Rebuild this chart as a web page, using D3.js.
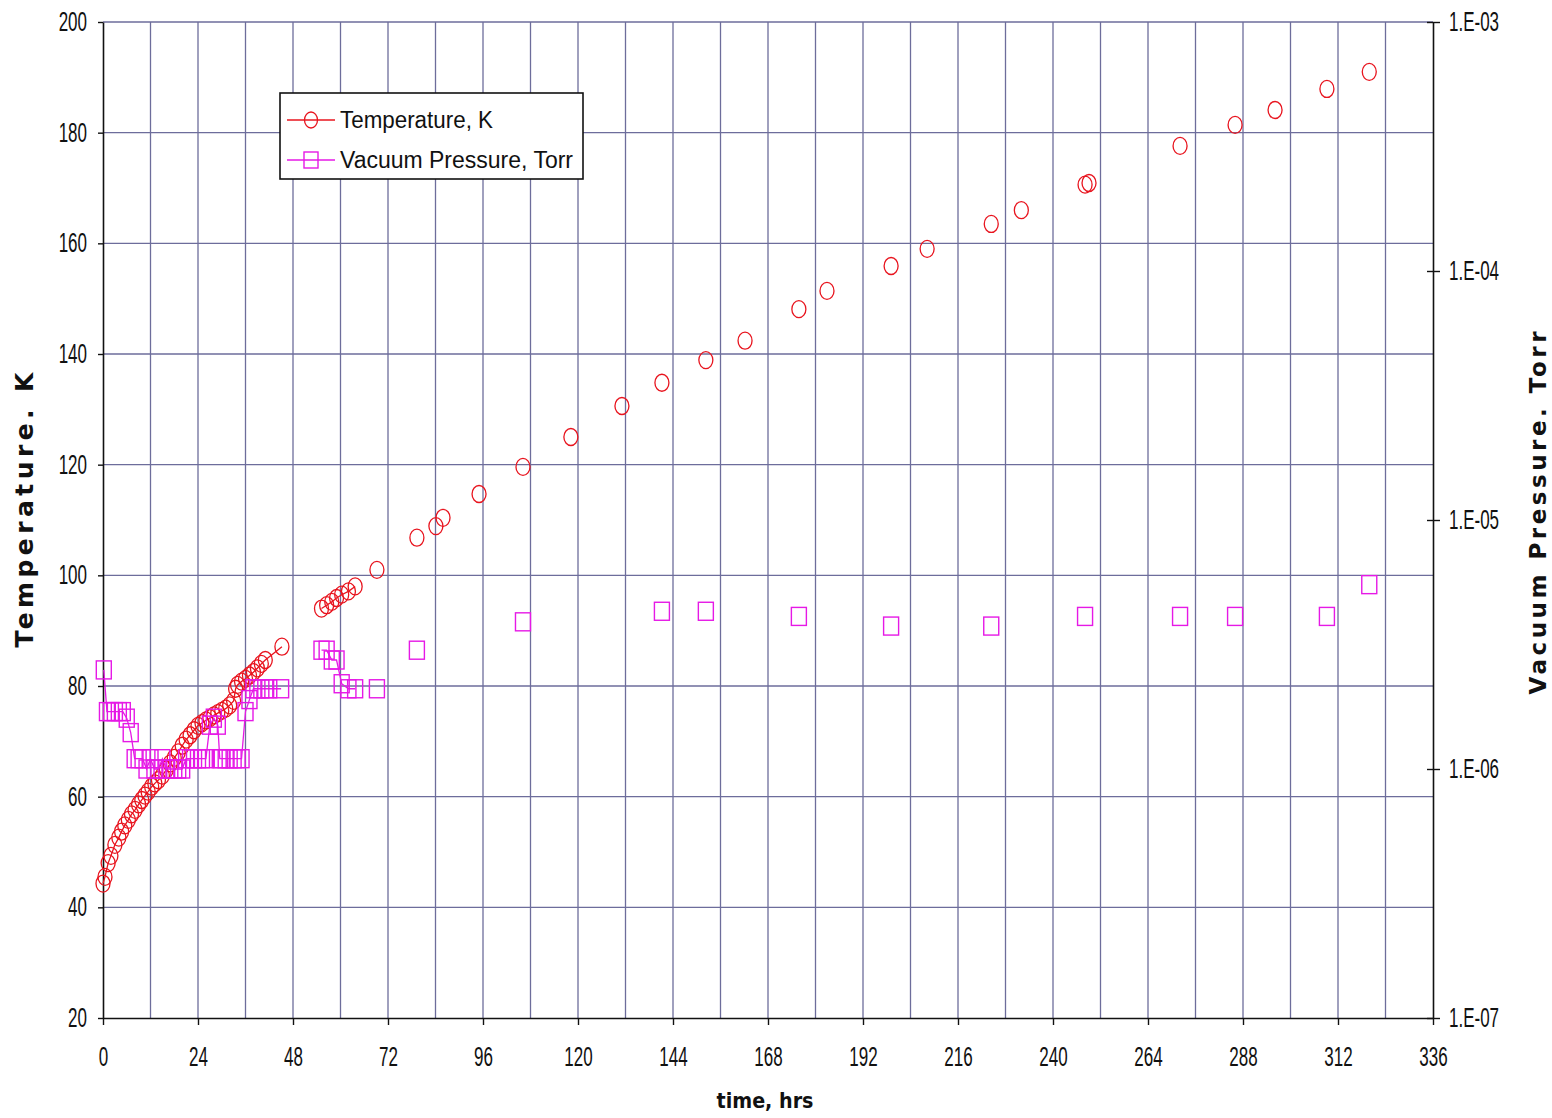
<!DOCTYPE html>
<html><head><meta charset="utf-8">
<script src="https://cdn.jsdelivr.net/npm/d3@7"></script>
<style>body{margin:0;background:#fff}svg{display:block}</style>
</head><body><svg id="c" width="1552" height="1118"></svg>
<script>
// ---------------- data ----------------
const timeTicks = [0,24,48,72,96,120,144,168,192,216,240,264,288,312,336];
const tempTicks = [20,40,60,80,100,120,140,160,180,200];
const pressureTicks = [1e-7,1e-6,1e-5,1e-4,1e-3];
const pressureTickLabels = ["1.E-07","1.E-06","1.E-05","1.E-04","1.E-03"];

// early continuous run (0-45 h)
const earlyTempTime = [0,0.5,1.3,2,3,4,4.7,5.5,6.4,7.2,8.1,9,9.8,10.6,11.4,12.3,13.1,14,15,16,17,18,19,20,21,22,23,24,25,26,27,28,29,30,31,32,33,33.5,34,35,36,37,38,39,40,41,45.2];
const earlyTempK = [44.3,45.5,48.0,49.3,51.3,52.6,53.7,54.8,55.8,56.8,57.6,58.6,59.4,60.2,60.9,61.8,62.4,63.0,63.8,64.9,66.0,67.0,68.0,69.2,70.3,71.1,72.0,72.8,73.3,73.8,74.2,74.7,75.1,75.5,75.9,76.5,77.3,79.5,80.2,80.8,81.3,81.9,82.5,83.2,84.0,84.7,87.1];
const earlyPresTime = [0.2,1,2,3,4,5,6,7,8,9,10,11,12,13,14,15,16,17,18,19,20,21,22,23,24,25,26,27,28,29,29.5,30,31,32,33,34,35,36,37,38,39,40,41,42,45];
const earlyPresTorr = [2.5e-6,1.7e-6,1.7e-6,1.7e-6,1.7e-6,1.7e-6,1.6e-6,1.4e-6,1.1e-6,1.1e-6,1.1e-6,1.0e-6,1.1e-6,1.0e-6,1.0e-6,1.1e-6,1.0e-6,1.0e-6,1.0e-6,1.0e-6,1.0e-6,1.1e-6,1.1e-6,1.1e-6,1.1e-6,1.1e-6,1.1e-6,1.5e-6,1.6e-6,1.5e-6,1.1e-6,1.1e-6,1.1e-6,1.1e-6,1.1e-6,1.1e-6,1.1e-6,1.7e-6,1.9e-6,2.1e-6,2.1e-6,2.1e-6,2.1e-6,2.1e-6,2.1e-6];

// second continuous run (55-64 h)
const midTime = [55.2,56.5,57.8,59.0,60.3,62.0,63.7];
const midTempK = [94.0,94.6,95.2,95.9,96.5,97.1,98.0];
const midPresTorr = [3.0e-6,3.0e-6,2.74e-6,2.74e-6,2.2e-6,2.1e-6,2.1e-6];

// later isolated readings
const lateTime = [69.2,79.3,84.1,85.9,95.0,106.1,118.2,131.1,141.2,152.3,162.2,175.8,182.9,199.1,208.2,224.4,232.0,248.1,249.1,272.1,286.0,296.1,309.2,319.9];
const lateTempK = [101.0,106.8,108.9,110.4,114.7,119.6,125.0,130.6,134.8,138.9,142.4,148.1,151.4,155.9,159.0,163.5,166.0,170.6,170.9,177.6,181.4,184.1,187.9,191.0];
const latePresTorr = [2.1e-6,3.0e-6,null,null,null,3.9e-6,null,null,4.3e-6,4.3e-6,null,4.1e-6,null,3.75e-6,null,3.75e-6,null,4.1e-6,null,4.1e-6,4.1e-6,null,4.1e-6,5.5e-6];

// ---------------- chart ----------------
const svg = d3.select("#c");
const L = 103, R = 1433, T = 22, B = 1018;
const x = d3.scaleLinear().domain([0,336]).range([L,R]);
const yT = d3.scaleLinear().domain([20,200]).range([B,T]);
const yP = d3.scaleLog().domain([1e-7,1e-3]).range([B,T]);

const gridColor = "#6d6d9b";
const red = "#e8141e", mag = "#e619e6";
const tickFont = "'Liberation Sans', Arial, sans-serif";
const SX = 0.63;

function condense(texts, sx) {
  texts.each(function() {
    const t = d3.select(this);
    const xv = +t.attr("x") || 0;
    t.attr("x", xv / sx).attr("transform", `scale(${sx},1)`);
  });
}

// grid
const grid = svg.append("g");
grid.selectAll("line.v").data(d3.range(12, 336, 12)).join("line")
  .attr("x1", d => x(d)).attr("x2", d => x(d)).attr("y1", T).attr("y2", B)
  .attr("stroke", gridColor).attr("stroke-width", 1.3);
grid.selectAll("line.h").data(tempTicks.filter(d => d > 20)).join("line")
  .attr("x1", L).attr("x2", R).attr("y1", d => yT(d)).attr("y2", d => yT(d))
  .attr("stroke", gridColor).attr("stroke-width", 1.3);

// axes
const ax = svg.append("g").attr("transform", `translate(0,${B})`)
  .call(d3.axisBottom(x).tickValues(timeTicks).tickSize(7).tickPadding(22).tickSizeOuter(0));
const ay = svg.append("g").attr("transform", `translate(${L},0)`)
  .call(d3.axisLeft(yT).tickValues(tempTicks).tickSize(5).tickPadding(11).tickSizeOuter(0));
const ar = svg.append("g").attr("transform", `translate(${R},0)`)
  .call(d3.axisRight(yP).tickValues(pressureTicks).tickFormat((d, i) => pressureTickLabels[i]).tickSize(7).tickPadding(9).tickSizeOuter(0));
ar.selectAll(".tick line").attr("x1", -6);
[ax, ay, ar].forEach(g => {
  g.select(".domain").attr("stroke", "#111").attr("stroke-width", 1.6);
  g.selectAll(".tick line").attr("stroke", "#111").attr("stroke-width", 1.4);
  g.selectAll("text").attr("font-family", tickFont).attr("font-size", 27).attr("fill", "#111");
  condense(g.selectAll("text"), SX);
});

// series
const line = d3.line().x(d => x(d[0])).y(d => d[1]);
function drawRun(times, vals, yScale, color) {
  const pts = times.map((t, i) => [t, vals[i] == null ? null : yScale(vals[i])]).filter(p => p[1] != null);
  svg.append("path").attr("d", line(pts)).attr("fill", "none").attr("stroke", color).attr("stroke-width", 1.3);
}
function drawCircles(times, vals) {
  svg.append("g").selectAll("ellipse").data(times.map((t, i) => [t, vals[i]]).filter(d => d[1] != null)).join("ellipse")
    .attr("cx", d => x(d[0])).attr("cy", d => yT(d[1])).attr("rx", 7).attr("ry", 8.5)
    .attr("fill", "none").attr("stroke", red).attr("stroke-width", 1.3);
}
function drawSquares(times, vals) {
  svg.append("g").selectAll("rect").data(times.map((t, i) => [t, vals[i]]).filter(d => d[1] != null)).join("rect")
    .attr("x", d => x(d[0]) - 7.5).attr("y", d => yP(d[1]) - 9).attr("width", 15).attr("height", 18)
    .attr("fill", "none").attr("stroke", mag).attr("stroke-width", 1.4);
}
drawRun(earlyTempTime, earlyTempK, yT, red);
drawRun(midTime, midTempK, yT, red);
drawCircles(earlyTempTime, earlyTempK);
drawCircles(midTime, midTempK);
drawCircles(lateTime, lateTempK);
drawRun(earlyPresTime, earlyPresTorr, yP, mag);
drawRun(midTime, midPresTorr, yP, mag);
drawSquares(earlyPresTime, earlyPresTorr);
drawSquares(midTime, midPresTorr);
drawSquares(lateTime, latePresTorr);

// legend
const lg = svg.append("g");
lg.append("rect").attr("x", 280).attr("y", 93).attr("width", 303).attr("height", 86)
  .attr("fill", "#fff").attr("stroke", "#111").attr("stroke-width", 1.6);
const legendItems = [
  {label: "Temperature, K", color: red, shape: "circle", y: 120, len: 153},
  {label: "Vacuum Pressure, Torr", color: mag, shape: "square", y: 160, len: 233}
];
legendItems.forEach(it => {
  lg.append("line").attr("x1", 287).attr("x2", 335).attr("y1", it.y).attr("y2", it.y)
    .attr("stroke", it.color).attr("stroke-width", 1.3);
  if (it.shape === "circle") lg.append("ellipse").attr("cx", 311).attr("cy", it.y).attr("rx", 6.5).attr("ry", 8)
    .attr("fill", "none").attr("stroke", it.color).attr("stroke-width", 1.3);
  else lg.append("rect").attr("x", 304).attr("y", it.y - 8).attr("width", 14).attr("height", 16)
    .attr("fill", "none").attr("stroke", it.color).attr("stroke-width", 1.4);
  lg.append("text").attr("x", 340).attr("y", it.y + 8).text(it.label)
    .attr("font-family", tickFont).attr("font-size", 23).attr("fill", "#111")
    .attr("textLength", it.len).attr("lengthAdjust", "spacingAndGlyphs");
});

// axis titles
svg.append("text").attr("x", 765).attr("y", 1108).attr("text-anchor", "middle").text("time, hrs")
  .attr("font-family", "'DejaVu Sans', sans-serif").attr("font-weight", "bold").attr("font-size", 21)
  .attr("textLength", 97).attr("lengthAdjust", "spacingAndGlyphs").attr("fill", "#111");
svg.append("text").attr("transform", "translate(33,510) rotate(-90)").attr("text-anchor", "middle").text("Temperature. K")
  .attr("font-family", "'DejaVu Sans', sans-serif").attr("font-weight", "bold").attr("font-size", 25)
  .attr("textLength", 275).attr("lengthAdjust", "spacing").attr("fill", "#111");
svg.append("text").attr("transform", "translate(1546,513) rotate(-90)").attr("text-anchor", "middle").text("Vacuum Pressure. Torr")
  .attr("font-family", "'DejaVu Sans', sans-serif").attr("font-weight", "bold").attr("font-size", 23)
  .attr("textLength", 363).attr("lengthAdjust", "spacing").attr("fill", "#111");
</script></body></html>
